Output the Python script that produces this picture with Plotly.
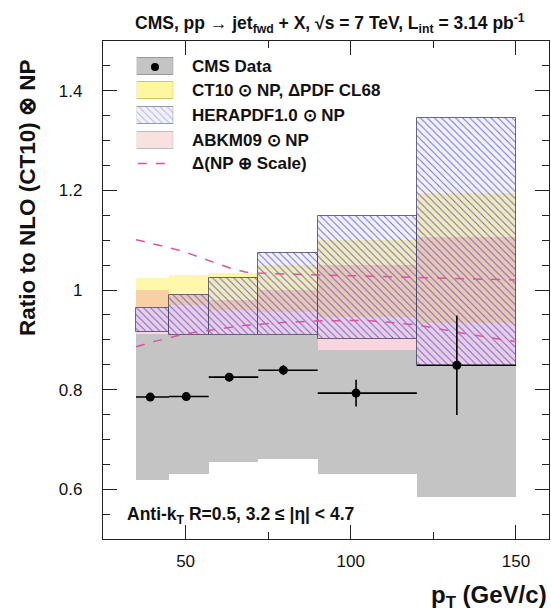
import plotly.graph_objects as go

# pT bin edges (GeV/c)
bin_edges = [35, 45, 57, 72, 90, 120, 150]

# measured ratio data / NLO(CT10)xNP at the mean pT of each bin
data_pt = [39.3, 50.2, 63.2, 79.6, 101.6, 132.1]
data_ratio = [0.785, 0.786, 0.825, 0.839, 0.793, 0.849]
data_stat = [0.005, 0.005, 0.008, 0.010, 0.027, 0.100]

# experimental systematic band
sys_lo = [0.619, 0.630, 0.655, 0.661, 0.630, 0.584]
sys_hi = [0.912, 0.909, 0.909, 0.909, 0.879, 0.847]

# theory bands relative to NLO(CT10)xNP
ct10_lo = [0.965, 0.970, 0.960, 0.955, 0.946, 0.933]
ct10_hi = [1.025, 1.030, 1.035, 1.050, 1.100, 1.194]
hera_lo = [0.916, 0.909, 0.909, 0.909, 0.902, 0.847]
hera_hi = [0.963, 0.989, 1.025, 1.074, 1.148, 1.345]
abkm_lo = [0.905, 0.905, 0.900, 0.895, 0.879, 0.849]
abkm_hi = [1.000, 0.990, 0.980, 1.000, 1.050, 1.106]

# NP (+) scale uncertainty envelope
env_pt = [35, 40, 44, 48, 52, 56, 60, 64, 68, 72, 80, 90, 105, 120, 135, 150]
env_up = [1.101, 1.093, 1.086, 1.080, 1.071, 1.061, 1.052, 1.043, 1.036, 1.034, 1.032, 1.030, 1.028, 1.025, 1.022, 1.020]
env_dn = [0.886, 0.896, 0.902, 0.909, 0.914, 0.918, 0.922, 0.926, 0.929, 0.931, 0.935, 0.938, 0.939, 0.930, 0.912, 0.896]

x_ticks = [50, 100, 150]
y_ticks = [0.6, 0.8, 1.0, 1.2, 1.4]
y_tick_text = ["0.6", "0.8", "1", "1.2", "1.4"]

legend_labels = [
    "CMS Data",
    "CT10 \u2299 NP, \u0394PDF CL68",
    "HERAPDF1.0 \u2299 NP",
    "ABKM09 \u2299 NP",
    "\u0394(NP \u2295 Scale)",
]

centers = [(a + b) / 2 for a, b in zip(bin_edges[:-1], bin_edges[1:])]
widths = [b - a for a, b in zip(bin_edges[:-1], bin_edges[1:])]
half = [w / 2 for w in widths]

FONT = "Liberation Sans, Arial, sans-serif"
GREY = "#c4c4c4"
YELLOW = "rgba(255,236,40,0.40)"
PINK = "rgba(232,120,150,0.30)"
HATCH = "rgba(85,85,215,0.85)"
HATCH_BG = "rgba(150,150,255,0.12)"
DASH = "#d9559f"


def band(lo, hi, **kw):
    return go.Bar(
        x=centers, width=widths, base=lo,
        y=[h - l for l, h in zip(lo, hi)],
        showlegend=False, hoverinfo="skip", **kw,
    )


fig = go.Figure()

fig.add_trace(band(ct10_lo, ct10_hi, marker=dict(color=YELLOW, line=dict(width=0))))
fig.add_trace(band(abkm_lo, abkm_hi, marker=dict(color=PINK, line=dict(width=0))))
fig.add_trace(band(sys_lo, sys_hi, marker=dict(color=GREY, line=dict(width=0))))
fig.add_trace(band(
    hera_lo, hera_hi,
    marker=dict(
        color=HATCH_BG,
        line=dict(color="rgba(70,70,100,0.8)", width=1),
        pattern=dict(shape="\\", fgcolor=HATCH, bgcolor=HATCH_BG, size=5, solidity=0.2, fillmode="replace"),
    ),
))

for env in (env_up, env_dn):
    fig.add_trace(go.Scatter(
        x=env_pt, y=env, mode="lines", showlegend=False, hoverinfo="skip",
        line=dict(color=DASH, width=1.5, dash="dash"),
    ))

fig.add_trace(go.Scatter(
    x=data_pt, y=data_ratio, mode="markers", showlegend=False,
    marker=dict(color="black", size=9),
    error_x=dict(type="data", symmetric=False,
                 array=[c + h - p for c, h, p in zip(centers, half, data_pt)],
                 arrayminus=[p - (c - h) for c, h, p in zip(centers, half, data_pt)],
                 color="black", thickness=1.6, width=0),
    error_y=dict(type="data", array=data_stat, color="black", thickness=1.6, width=0),
))

# legend drawn in its own small subplot so the swatches can be large boxes
rows = [0.948, 0.900, 0.851, 0.801, 0.754]
sw_h = 0.034
fig.add_trace(go.Bar(x=[1], y=[rows[0]], base=0, orientation="h", width=sw_h,
                     marker=dict(color=GREY, line=dict(color="#999", width=1)),
                     xaxis="x2", yaxis="y2", showlegend=False, hoverinfo="skip"))
fig.add_trace(go.Bar(x=[1], y=[rows[1]], base=0, orientation="h", width=sw_h,
                     marker=dict(color="rgba(255,240,80,0.55)", line=dict(color="#c9c96a", width=1)),
                     xaxis="x2", yaxis="y2", showlegend=False, hoverinfo="skip"))
fig.add_trace(go.Bar(x=[1], y=[rows[2]], base=0, orientation="h", width=sw_h,
                     marker=dict(color=HATCH_BG, line=dict(color="#999", width=1),
                                 pattern=dict(shape="\\", fgcolor=HATCH, bgcolor=HATCH_BG, size=5, solidity=0.2)),
                     xaxis="x2", yaxis="y2", showlegend=False, hoverinfo="skip"))
fig.add_trace(go.Bar(x=[1], y=[rows[3]], base=0, orientation="h", width=sw_h,
                     marker=dict(color="rgba(240,170,170,0.35)", line=dict(color="#bbb", width=1)),
                     xaxis="x2", yaxis="y2", showlegend=False, hoverinfo="skip"))
fig.add_trace(go.Scatter(x=[0.5], y=[rows[0]], mode="markers", marker=dict(color="black", size=8),
                         xaxis="x2", yaxis="y2", showlegend=False, hoverinfo="skip"))
fig.add_trace(go.Scatter(x=[0.03, 0.97], y=[rows[4], rows[4]], mode="lines",
                         line=dict(color=DASH, width=1.5, dash="dash"),
                         xaxis="x2", yaxis="y2", showlegend=False, hoverinfo="skip"))

for label, ry in zip(legend_labels, rows):
    fig.add_annotation(text="<b>%s</b>" % label, xref="paper", yref="paper",
                       x=0.195, y=ry, xanchor="left", yanchor="middle", showarrow=False,
                       font=dict(family=FONT, size=17, color="#111"))

fig.add_annotation(
    text="<b>CMS, pp \u2192 jet<sub>fwd</sub> + X, \u221As = 7 TeV, L<sub>int</sub> = 3.14 pb<sup>-1</sup></b>",
    xref="paper", yref="paper", x=0.51, y=1.0, yshift=3, xanchor="center", yanchor="bottom",
    showarrow=False, font=dict(family=FONT, size=17.5, color="#111"))

fig.add_annotation(
    text="<b>Anti-k<sub>T</sub> R=0.5, 3.2 \u2264 |\u03b7| &lt; 4.7</b>",
    xref="paper", yref="paper", x=0.05, y=0.048, xanchor="left", yanchor="middle",
    showarrow=False, font=dict(family=FONT, size=17.5, color="#111"))

fig.add_annotation(
    text="<b>p<sub>T</sub> (GeV/c)</b>", xref="paper", yref="paper", x=1.0, y=-0.115,
    xanchor="right", yanchor="middle", showarrow=False,
    font=dict(family=FONT, size=24, color="#111"))

fig.add_annotation(
    text="<b>Ratio to NLO (CT10) \u2297 NP</b>", textangle=-90,
    xref="paper", yref="paper", x=-0.169, y=0.686, xanchor="center", yanchor="middle",
    showarrow=False, font=dict(family=FONT, size=22.5, color="#111"))

axis_common = dict(
    showline=True, linecolor="#222", linewidth=1.2, mirror="allticks",
    ticks="inside", tickcolor="#222", tickwidth=1.2, ticklen=14,
    showgrid=False, zeroline=False,
    tickfont=dict(family=FONT, size=17, color="#111"),
)

fig.update_layout(
    width=551, height=611,
    margin=dict(l=103, r=2, t=41, b=72),
    paper_bgcolor="white", plot_bgcolor="rgba(0,0,0,0)",
    barmode="overlay", bargap=0,
    showlegend=False,
    xaxis=dict(range=[25, 160], tickvals=x_ticks, ticktext=[str(v) for v in x_ticks],
               ticklabelstandoff=6,
               minor=dict(dtick=25, tick0=0, ticklen=7, ticks="inside", tickcolor="#222", tickwidth=1.2),
               **axis_common),
    yaxis=dict(range=[0.5, 1.5], tickvals=y_ticks, ticktext=y_tick_text,
               ticklabelstandoff=16,
               minor=dict(dtick=0.05, tick0=0, ticklen=7, ticks="inside", tickcolor="#222", tickwidth=1.2),
               **axis_common),
    xaxis2=dict(domain=[0.0756, 0.1576], range=[0, 1], visible=False, anchor="y2"),
    yaxis2=dict(domain=[0, 1], range=[0, 1], visible=False, anchor="x2"),
)

fig.write_html("out.html")
